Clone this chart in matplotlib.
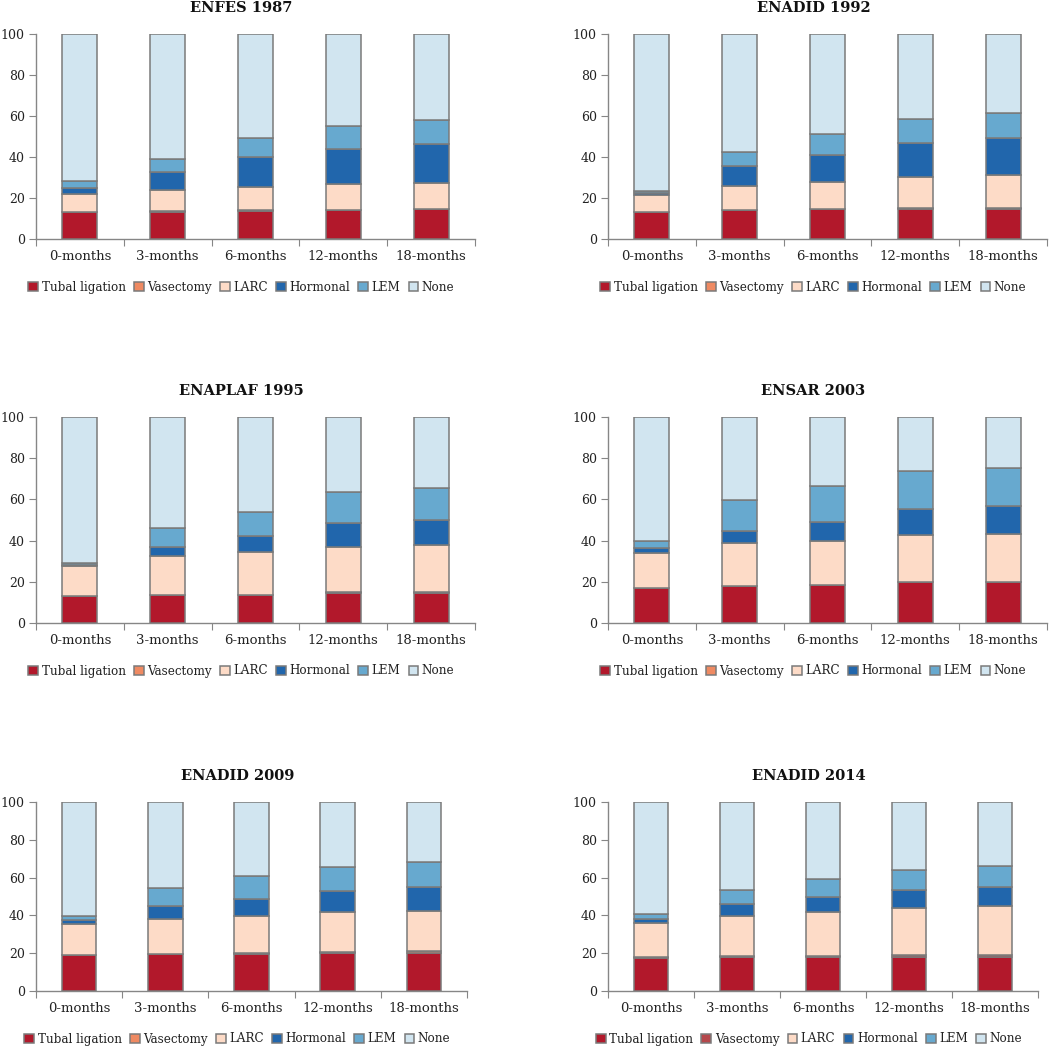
import numpy as np
import matplotlib
matplotlib.use("Agg")
import matplotlib.pyplot as plt

plt.rcParams['font.family'] = ['DejaVu Serif']

months = ["0-months", "3-months", "6-months", "12-months", "18-months"]
methods = ["Tubal ligation", "Vasectomy", "LARC", "Hormonal", "LEM", "None"]
surveys = ["ENFES 1987", "ENADID 1992", "ENAPLAF 1995", "ENSAR 2003", "ENADID 2009", "ENADID 2014"]

# percent of women per method, one row per method (same order as methods)
enfes_1987 = [
    [13.0, 13.4, 13.8, 14.1, 14.4],
    [0.1, 0.1, 0.2, 0.2, 0.2],
    [8.7, 10.4, 11.5, 12.5, 12.8],
    [3.2, 8.7, 14.3, 17.2, 18.7],
    [3.2, 6.2, 9.7, 11.2, 12.0],
    [71.8, 61.2, 50.5, 44.8, 41.9],
]
enadid_1992 = [
    [13.0, 14.2, 14.4, 14.7, 14.8],
    [0.1, 0.1, 0.2, 0.2, 0.3],
    [8.5, 11.5, 13.3, 15.3, 15.9],
    [1.0, 9.8, 13.3, 16.7, 18.4],
    [0.9, 6.9, 9.8, 11.5, 12.1],
    [76.5, 57.5, 49.0, 41.6, 38.5],
]
enaplaf_1995 = [
    [12.9, 13.5, 13.6, 14.5, 14.7],
    [0.2, 0.1, 0.2, 0.5, 0.4],
    [14.6, 18.7, 20.7, 22.1, 22.7],
    [0.5, 4.7, 7.6, 11.5, 12.4],
    [1.1, 9.2, 12.0, 14.9, 15.4],
    [70.7, 53.8, 45.9, 36.5, 34.4],
]
ensar_2003 = [
    [17.1, 17.9, 18.3, 19.7, 19.7],
    [0.1, 0.1, 0.2, 0.2, 0.2],
    [16.7, 20.6, 21.4, 22.9, 23.4],
    [2.4, 6.3, 8.9, 12.6, 13.6],
    [3.4, 14.7, 17.8, 18.3, 18.3],
    [60.3, 40.4, 33.4, 26.3, 24.8],
]
enadid_2009 = [
    [18.8, 19.4, 19.8, 20.3, 20.1],
    [0.1, 0.2, 0.2, 0.2, 0.9],
    [16.4, 18.4, 19.6, 21.2, 21.2],
    [2.3, 7.2, 9.3, 11.1, 12.7],
    [2.2, 9.4, 12.2, 12.9, 13.5],
    [60.2, 45.4, 38.9, 34.3, 31.6],
]
enadid_2014 = [
    [17.6, 17.9, 17.9, 18.0, 18.0],
    [0.2, 0.5, 0.6, 0.9, 1.3],
    [18.2, 21.5, 23.4, 25.1, 25.8],
    [2.3, 5.9, 7.7, 9.4, 10.0],
    [2.2, 7.4, 9.8, 10.6, 11.0],
    [59.5, 46.8, 40.6, 36.0, 33.9],
]
panels = [enfes_1987, enadid_1992, enaplaf_1995, ensar_2003, enadid_2009, enadid_2014]

colors = ["#B2182B", "#EF8A62", "#FDDBC7", "#2166AC", "#67A9CF", "#D1E5F0"]
vas_2014 = "#B5474B"
edge = "#7a7a7a"

W, H = 1050, 1047
fig = plt.figure(figsize=(W / 100, H / 100), dpi=100)

# axes boxes in pixels: left, top, right, bottom
boxes = [
    (36, 34, 475, 239), (608, 34, 1047, 239),
    (36, 417, 475, 623), (608, 417, 1047, 623),
    (36, 802, 467, 991), (608, 802, 1038, 991),
]

x = np.arange(len(months))
for i, (title, data) in enumerate(zip(surveys, panels)):
    l, t, r, b = boxes[i]
    hpx = b - t
    wpx = r - l
    ax = fig.add_axes([l / W, 1 - b / H, wpx / W, hpx / H])
    bottom = np.zeros(len(months))
    for j, name in enumerate(methods):
        c = colors[j]
        if j == 1 and i == 5:
            c = vas_2014
        ax.bar(x, data[j], 0.4, bottom=bottom, color=c, edgecolor=edge,
               linewidth=1.1, label=name, zorder=3)
        bottom += np.array(data[j])

    ax.set_xlim(-0.5, 4.5)
    ax.set_ylim(0, 100)
    ax.set_yticks(np.arange(0, 101, 20))
    ax.set_xticks(np.arange(-0.5, 5), labels=[""] * 6)
    ax.set_xticks(x, labels=months, minor=True)
    ax.tick_params(axis='x', which='major', length=5, color='#868686', direction='out')
    ax.tick_params(axis='x', which='minor', length=0, pad=8, labelsize=9.5, labelcolor='#222222')
    ax.tick_params(axis='y', length=5, color='#868686', pad=3, labelsize=9, labelcolor='#222222')
    for s in ['top', 'right']:
        ax.spines[s].set_visible(False)
    for s in ['left', 'bottom']:
        ax.spines[s].set_color('#868686')
        ax.spines[s].set_linewidth(1.0)

    off = 14 / wpx
    ax.text(0.5 - off, 1 + 26 / hpx, title, transform=ax.transAxes, ha='center',
            va='center', fontsize=10.5, fontweight='bold', color='#111111')
    ax.legend(loc='center', bbox_to_anchor=(0.5 - off, -48 / hpx), ncol=6, frameon=False,
              handlelength=0.8, handleheight=0.8, handletextpad=0.3, columnspacing=0.7,
              fontsize=8.6, borderaxespad=0, labelcolor='#222222')

fig.savefig("out.png", dpi=100)
